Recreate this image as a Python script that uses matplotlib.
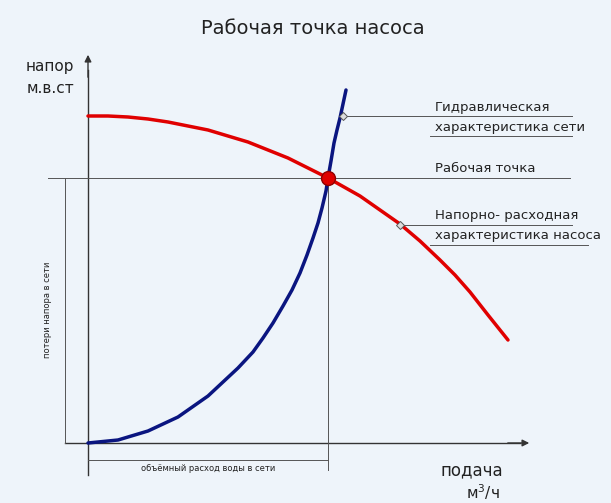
import matplotlib.pyplot as plt
import numpy as np

# schematic values (flow, head) in drawing units, origin at axis corner
pump_q = [0, 20, 40, 60, 80, 100, 120, 140, 160, 180, 200, 220, 240, 256, 272, 292, 312, 332, 352, 367, 382, 400, 420]
pump_h = [327, 327, 326, 324, 321, 317, 313, 307, 301, 293, 285, 275, 265, 256, 247, 233, 219, 202, 183, 168, 151, 128, 103]
net_q = [0, 30, 60, 90, 120, 150, 165, 175, 185, 195, 204, 212, 219, 225, 230, 234, 238, 240, 243, 246, 249, 252, 255, 258]
net_h = [0, 3, 12, 26, 47, 75, 91, 105, 120, 137, 153, 170, 188, 205, 220, 235, 252, 265, 282, 300, 313, 325, 339, 353]
work_q, work_h = 240, 265

X0, Y0 = 88, 443
ink = "#555555"

fig = plt.figure(figsize=(6.11, 5.03), dpi=100)
fig.patch.set_facecolor("#eef4fa")
ax = fig.add_axes([0, 0, 1, 1])
ax.set_xlim(0, 611)
ax.set_ylim(503, 0)
ax.axis("off")

def px(q): return X0 + np.asarray(q)
def py(h): return Y0 - np.asarray(h)

# axes with arrows
ax.plot([X0, X0], [475, 70], color="#333333", lw=1)
ax.plot([65, 520], [Y0, Y0], color="#333333", lw=1)
ax.annotate("", xy=(X0, 52), xytext=(X0, 80),
            arrowprops=dict(arrowstyle="-|>", color="#333333", lw=1))
ax.annotate("", xy=(532, Y0), xytext=(505, Y0),
            arrowprops=dict(arrowstyle="-|>", color="#333333", lw=1))

wx, wy = px(work_q), py(work_h)
# guide lines
ax.plot([48, 570], [wy, wy], color=ink, lw=0.7)
ax.plot([wx, wx], [wy, 470], color=ink, lw=0.7)
ax.plot([65, 65], [wy, Y0], color=ink, lw=0.7)
ax.plot([X0, wx], [460, 460], color=ink, lw=0.7)

ax.plot(px(pump_q), py(pump_h), color="#e00000", lw=2.5, solid_capstyle="round", solid_joinstyle="round")
ax.plot(px(net_q), py(net_h), color="#0a1580", lw=2.5, solid_capstyle="round", solid_joinstyle="round")
ax.plot(wx, wy, "o", color="#e00000", ms=10, mec="#900000", mew=1)

# leaders
ax.plot([343, 572], [116, 116], color=ink, lw=0.7)
ax.plot(343, 116, "D", ms=4, mfc="#dddddd", mec=ink, mew=0.7)
ax.plot([400, 572], [225, 225], color=ink, lw=0.7)
ax.plot(400, 225, "D", ms=4, mfc="#dddddd", mec=ink, mew=0.7)
ax.plot([430, 572], [136, 136], color=ink, lw=0.7)
ax.plot([430, 588], [245, 245], color=ink, lw=0.7)

tc = "#222222"
ax.text(313, 28, "Рабочая точка насоса", fontsize=14, ha="center", va="center", color=tc)
ax.text(50, 66, "напор", fontsize=11, ha="center", va="center", color=tc)
ax.text(50, 88, "м.в.ст", fontsize=11, ha="center", va="center", color=tc)
ax.text(472, 470, "подача", fontsize=12, ha="center", va="center", color=tc)
ax.text(483, 492, "м$^3$/ч", fontsize=11, ha="center", va="center", color=tc)
ax.text(435, 107, "Гидравлическая", fontsize=9.5, va="center", color=tc)
ax.text(435, 127, "характеристика сети", fontsize=9.5, va="center", color=tc)
ax.text(435, 168, "Рабочая точка", fontsize=9.5, va="center", color=tc)
ax.text(435, 215, "Напорно- расходная", fontsize=9.5, va="center", color=tc)
ax.text(435, 236, "характеристика насоса", fontsize=9.5, va="center", color=tc)
ax.text(48, 310, "потери напора в сети", fontsize=6, rotation=90, ha="center", va="center", color=tc)
ax.text(208, 464, "объёмный расход воды в сети", fontsize=6, ha="center", va="top", color=tc)

fig.savefig("out.png", dpi=100, facecolor=fig.get_facecolor())
